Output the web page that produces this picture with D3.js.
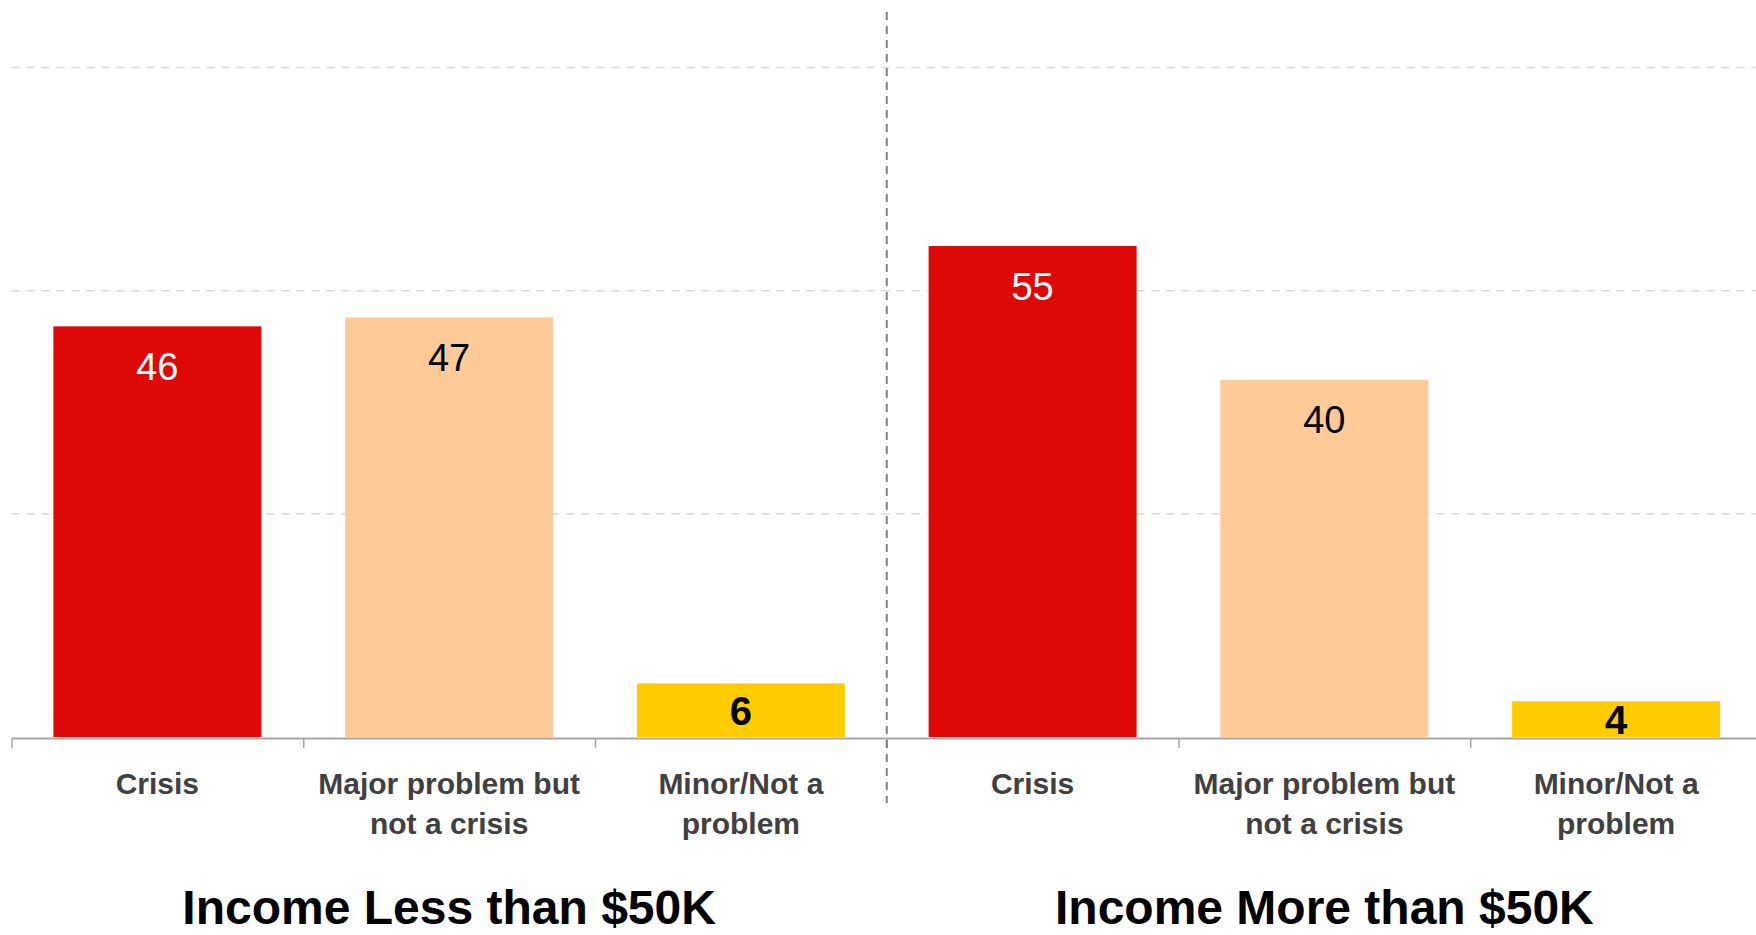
<!DOCTYPE html>
<html>
<head>
<meta charset="utf-8">
<script src="https://cdn.jsdelivr.net/npm/d3@7"></script>
<style>
  html, body { margin: 0; padding: 0; background: #ffffff; }
  svg { display: block; font-family: "Liberation Sans", Arial, sans-serif; }
</style>
</head>
<body>
<svg id="chart" width="1756" height="935"></svg>
<script>
// ---- data ----
const groups = ["Income Less than $50K", "Income More than $50K"];
const categories = ["Crisis", "Major problem but not a crisis", "Minor/Not a problem"];
const categoryLines = [["Crisis"], ["Major problem but", "not a crisis"], ["Minor/Not a", "problem"]];
const lessThan50K = [46, 47, 6];
const moreThan50K = [55, 40, 4];
const gridTicks = [25, 50, 75];
const barColors = ["#de0806", "#fecb98", "#ffcc00"];
const labelColors = ["#ffffff", "#000000", "#000000"];

const seriesByGroup = [lessThan50K, moreThan50K];
const rows = [];
groups.forEach((g, gi) => categories.forEach((c, ci) => {
  rows.push({ key: gi + "|" + c, group: g, gi, ci, value: seriesByGroup[gi][ci] });
}));

// ---- layout ----
const svg = d3.select("#chart");
const left = 11.5, right = 1762, baseY = 737, topY = 67.5;

const x = d3.scaleBand()
  .domain(rows.map(d => d.key))
  .range([left, right])
  .paddingInner(0.287)
  .paddingOuter(0.1435);

const xEdges = d3.scaleLinear().domain([0, rows.length]).range([left, right]);
const y = d3.scaleLinear().domain([0, 75]).range([baseY, topY]);

// gridlines
svg.append("g").selectAll("line").data(gridTicks).join("line")
  .attr("x1", left).attr("x2", 1756)
  .attr("y1", d => y(d)).attr("y2", d => y(d))
  .attr("stroke", "#d9d9d9").attr("stroke-width", 1.5)
  .attr("stroke-dasharray", "8,7");

// bars
svg.append("g").selectAll("rect").data(rows).join("rect")
  .attr("x", d => x(d.key))
  .attr("width", x.bandwidth())
  .attr("y", d => y(d.value))
  .attr("height", d => y(0) - y(d.value))
  .attr("fill", d => barColors[d.ci]);

// axis with ticks at band boundaries
const axis = d3.axisBottom(xEdges)
  .tickValues(d3.range(0, rows.length + 1))
  .tickSize(10)
  .tickSizeOuter(0)
  .tickFormat("");
const ax = svg.append("g").attr("transform", `translate(0,${baseY + 1})`).call(axis);
ax.select(".domain").attr("stroke", "#a6a6a6").attr("stroke-width", 2);
ax.selectAll(".tick line").attr("stroke", "#a6a6a6").attr("stroke-width", 1.5);

// group divider
const midX = xEdges(categories.length);
svg.append("line")
  .attr("x1", midX).attr("x2", midX)
  .attr("y1", 12).attr("y2", 803)
  .attr("stroke", "#808080").attr("stroke-width", 2)
  .attr("stroke-dasharray", "8,6");

// value labels
svg.append("g").selectAll("text").data(rows).join("text")
  .attr("x", d => x(d.key) + x.bandwidth() / 2)
  .attr("y", d => d.value >= 10 ? y(d.value) + 53.5 : (y(d.value) + y(0)) / 2 + 14.5)
  .attr("text-anchor", "middle")
  .attr("font-size", d => d.value >= 10 ? 38 : 40)
  .attr("font-weight", d => d.value >= 10 ? "normal" : "bold")
  .attr("fill", d => labelColors[d.ci])
  .text(d => d.value);

// category labels
const catG = svg.append("g").selectAll("text").data(rows).join("text")
  .attr("text-anchor", "middle")
  .attr("font-size", 30)
  .attr("font-weight", "bold")
  .attr("fill", "#404040");
catG.selectAll("tspan").data(d => categoryLines[d.ci].map(t => ({ t, d }))).join("tspan")
  .attr("x", o => x(o.d.key) + x.bandwidth() / 2)
  .attr("y", (o, i) => 794 + i * 40)
  .text(o => o.t);

// group titles
svg.append("g").selectAll("text").data(groups).join("text")
  .attr("x", (g, gi) => (xEdges(gi * 3) + xEdges(gi * 3 + 3)) / 2)
  .attr("y", 924)
  .attr("text-anchor", "middle")
  .attr("font-size", 48)
  .attr("font-weight", "bold")
  .attr("fill", "#000000")
  .text(g => g);
</script>
</body>
</html>
